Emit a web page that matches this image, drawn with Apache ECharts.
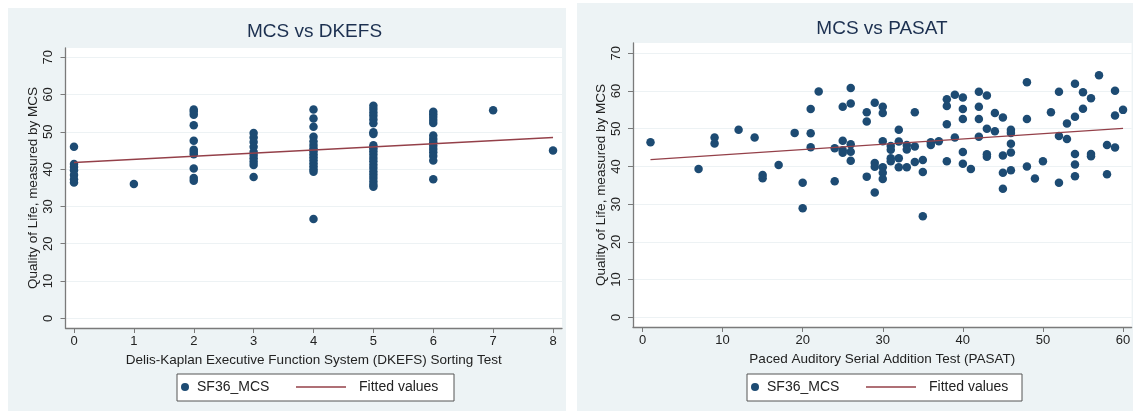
<!DOCTYPE html>
<html><head><meta charset="utf-8">
<script src="https://cdn.jsdelivr.net/npm/echarts@6/dist/echarts.min.js"></script>
<style>html,body{margin:0;padding:0;background:#fff}#c{width:1138px;height:417px}</style>
</head><body><div id="c"></div><script>
// ---- data ----
const dkefsScores = [0, 1, 2, 3, 4, 5, 6, 7, 8];
const dkefsMCS = [
  [46, 41.4, 40.6, 39.7, 38.4, 37.3, 36.4],
  [36],
  [56, 55.4, 54.6, 51.8, 47.6, 45.2, 44.6, 44, 40.2, 37.6, 36.9],
  [49.7, 48.5, 47.3, 46, 44.6, 43.8, 42.9, 42, 41.1, 37.9],
  [56, 53.6, 51.4, 48.7, 47.5, 46.5, 45.6, 44.8, 44, 43.2, 42.4, 41.6, 40.8, 40, 39.3, 26.6],
  [57, 56.1, 55.2, 54.3, 53.3, 52.3, 49.9, 49.4, 46.4, 45.6, 44.8, 43.9, 43, 42.1, 41.2, 40.3, 39.4, 38.5, 37.6, 36.7, 35.8, 35.3],
  [55.4, 54.7, 54, 53.2, 52.4, 49, 48.1, 47.2, 46.3, 45.4, 44.5, 43.5, 42.3, 37.3],
  [55.8],
  [45]
];
const dkefsFitX = [0, 8];
const dkefsFitY = [41.8, 48.5];

const pasatScore = [1,7,9,9,12,14,15,15,17,19,20,20,21,21,21,22,24,24,25,25,25,25,26,26,26,26,26,28,28,28,29,29,29,29,30,30,30,30,30,30,31,31,31,31,32,32,32,32,33,33,33,34,34,34,35,35,35,36,36,37,38,38,38,38,39,39,40,40,40,40,40,41,42,42,42,42,43,43,43,43,44,44,45,45,45,45,46,46,46,46,46,48,48,48,49,50,51,52,52,52,53,53,54,54,54,54,54,55,55,56,56,56,57,58,58,59,59,59,60];
const pasatMCS = [46.4,39.3,47.7,46.1,49.7,47.7,37.7,36.9,40.4,48.9,35.7,28.9,55.2,48.8,45.1,59.9,44.8,36.1,55.8,46.8,44.3,43.6,60.8,56.7,45.9,43.9,41.5,54.4,51.9,37.3,56.9,40.9,39.9,33.1,55.8,54.2,46.7,39.8,38.3,36.7,45.4,44.4,42.2,41.4,49.7,46.6,42.2,39.8,45.7,44.5,39.8,54.4,45.3,41.2,41.7,38.5,26.8,46.4,45.7,46.7,57.8,56.0,51.2,41.4,59.0,47.7,58.3,55.2,52.6,43.8,40.7,39.3,59.8,55.8,52.6,47.9,58.8,50.0,43.2,42.6,54.2,49.3,53.0,42.9,38.3,34.1,49.7,48.9,46.0,43.7,39.0,62.3,52.6,40.0,36.8,41.4,54.4,59.8,48.1,35.7,51.4,47.3,61.9,53.2,43.3,40.5,37.4,59.7,55.3,58.1,43.3,42.7,64.2,45.7,37.9,60.1,53.5,45.0,55.0];
const pasatFitX = [1, 60];
const pasatFitY = [41.8, 50.1];

const yTicks = [0, 10, 20, 30, 40, 50, 60, 70];
const dkefsTicks = [0, 1, 2, 3, 4, 5, 6, 7, 8];
const pasatTicks = [0, 10, 20, 30, 40, 50, 60];

// ---- build ----
const dkefsPoints = [];
dkefsScores.forEach((s, i) => dkefsMCS[i].forEach(v => dkefsPoints.push([s, v])));
const pasatPoints = pasatScore.map((s, i) => [s, pasatMCS[i]]);
const dkefsFit = dkefsFitX.map((x, i) => [x, dkefsFitY[i]]);
const pasatFit = pasatFitX.map((x, i) => [x, pasatFitY[i]]);

const NAVY = '#1d4b73', MAROON = '#944049', AXIS = '#7a7a7a', GRIDC = '#edf2f4', TXT = '#222';
const PANEL = '#edf3f5';
const FONT = '"Liberation Sans", Arial, Helvetica, sans-serif';

function xAx(gi, min, max, ticks, name) {
  return {
    type: 'value', gridIndex: gi, min, max, name, nameLocation: 'middle', nameGap: 22,
    nameTextStyle: { fontFamily: FONT, fontSize: 13.5, color: TXT },
    axisLine: { show: true, onZero: false, lineStyle: { color: AXIS, width: 1.3 } },
    axisTick: { show: true, length: 5, customValues: ticks, lineStyle: { color: AXIS, width: 1 } },
    axisLabel: { customValues: ticks, margin: 7, fontFamily: FONT, fontSize: 13, color: TXT },
    splitLine: { show: false }
  };
}
function yAx(gi, min, max, gap, margin) {
  return {
    type: 'value', gridIndex: gi, min, max, name: 'Quality of Life, measured by MCS',
    nameLocation: 'middle', nameGap: gap, nameRotate: 90,
    nameTextStyle: { fontFamily: FONT, fontSize: 13.5, color: TXT },
    axisLine: { show: true, onZero: false, lineStyle: { color: AXIS, width: 1.3 } },
    axisTick: { show: true, length: 5, customValues: yTicks, lineStyle: { color: AXIS, width: 1 } },
    axisLabel: { customValues: yTicks, rotate: 90, margin, fontFamily: FONT, fontSize: 13, color: TXT },
    splitLine: { show: true, lineStyle: { color: GRIDC, width: 1 } }
  };
}
function dotLegend(left) {
  return { data: [{ name: 'SF36_MCS', icon: 'circle', itemStyle: { color: NAVY } }], left, top: 380, padding: 0,
    itemWidth: 8, itemHeight: 8, selectedMode: false,
    textStyle: { fontFamily: FONT, fontSize: 14, color: TXT, padding: [0, 0, 0, 3] } };
}
function lineLegend(left) {
  return { data: [{ name: 'Fitted values', icon: 'rect', itemStyle: { color: MAROON, borderWidth: 0 } }], left, top: 380, padding: 0,
    itemWidth: 50, itemHeight: 1.4, selectedMode: false,
    textStyle: { fontFamily: FONT, fontSize: 14, color: TXT, padding: [0, 0, 0, 8] } };
}

const chart = echarts.init(document.getElementById('c'), null, { renderer: 'canvas' });
chart.setOption({
  animation: false,
  backgroundColor: '#fff',
  graphic: [
    { type: 'rect', z: -100, shape: { x: 8, y: 8, width: 558, height: 403 }, style: { fill: PANEL } },
    { type: 'rect', z: -100, shape: { x: 577, y: 3, width: 556, height: 408 }, style: { fill: PANEL } },
    { type: 'rect', z: 1, shape: { x: 177, y: 374, width: 277, height: 27 }, style: { fill: '#fff', stroke: '#555', lineWidth: 1 } },
    { type: 'rect', z: 1, shape: { x: 747, y: 374, width: 275, height: 27 }, style: { fill: '#fff', stroke: '#555', lineWidth: 1 } }
  ],
  title: [
    { text: 'MCS vs DKEFS', left: 314.5, top: 22, textAlign: 'center', padding: 0,
      textStyle: { fontFamily: FONT, fontSize: 19, fontWeight: 'normal', color: '#1c3050' } },
    { text: 'MCS vs PASAT', left: 882, top: 19, textAlign: 'center', padding: 0,
      textStyle: { fontFamily: FONT, fontSize: 19, fontWeight: 'normal', color: '#1c3050' } }
  ],
  legend: [dotLegend(181), lineLegend(296), dotLegend(751), lineLegend(866)],
  grid: [
    { left: 65.5, top: 48, width: 496.5, height: 280, show: true, backgroundColor: '#fff', borderWidth: 0, containLabel: false },
    { left: 633, top: 43, width: 498.6, height: 284, show: true, backgroundColor: '#fff', borderWidth: 0, containLabel: false }
  ],
  xAxis: [
    xAx(0, -0.142, 8.15, dkefsTicks, 'Delis-Kaplan Executive Function System (DKEFS) Sorting Test'),
    xAx(1, -1.186, 61.07, pasatTicks, 'Paced Auditory Serial Addition Test (PASAT)')
  ],
  yAxis: [
    yAx(0, -2.6, 72.49, 25.5, 11),
    yAx(1, -2.57, 72.73, 25, 10)
  ],
  series: [
    { type: 'scatter', name: 'SF36_MCS', xAxisIndex: 0, yAxisIndex: 0, data: dkefsPoints, symbolSize: 8.5,
      itemStyle: { color: NAVY, opacity: 1 }, z: 2 },
    { type: 'line', name: 'Fitted values', xAxisIndex: 0, yAxisIndex: 0, data: dkefsFit, symbol: 'none', showSymbol: false,
      lineStyle: { color: MAROON, width: 1.4 }, itemStyle: { color: MAROON }, z: 3 },
    { type: 'scatter', name: 'SF36_MCS', xAxisIndex: 1, yAxisIndex: 1, data: pasatPoints, symbolSize: 8.5,
      itemStyle: { color: NAVY, opacity: 1 }, z: 2 },
    { type: 'line', name: 'Fitted values', xAxisIndex: 1, yAxisIndex: 1, data: pasatFit, symbol: 'none', showSymbol: false,
      lineStyle: { color: MAROON, width: 1.4 }, itemStyle: { color: MAROON }, z: 3 }
  ]
});
</script></body></html>
